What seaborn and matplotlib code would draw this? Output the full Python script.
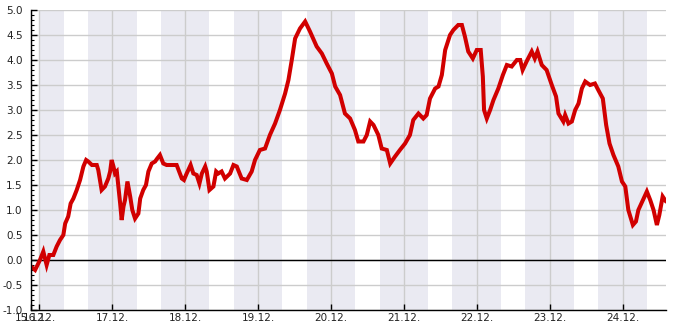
import matplotlib
matplotlib.use("Agg")
import matplotlib.pyplot as plt
from matplotlib.ticker import MultipleLocator
import seaborn as sns
import pandas as pd

# hours since 16.12. 00:00
hours = [-2.75, -1.4, 0.2, 1.3, 2.4, 3.3, 4.6, 5.7, 6.8, 7.9, 8.5, 9.5, 10.3, 11.2, 12.3,
         13.4, 14.5, 15.4, 16.1, 17.3, 18.9, 19.4, 20.5, 21.6, 22.7, 23.3, 23.8, 24.4,
         24.9, 25.5, 26.6, 27.1, 27.7, 28.2, 29.0, 29.9, 30.6, 31.5, 32.6, 33.2, 34.2,
         35.1, 35.9, 37.0, 38.1, 38.8, 39.7, 40.8, 41.9, 45.2, 46.9, 47.6, 48.5, 49.8,
         50.7, 51.8, 52.7, 53.5, 54.6, 55.1, 56.0, 57.3, 58.2, 58.9, 60.0, 61.1, 62.8,
         63.9, 65.0, 66.6, 68.3, 69.9, 71.0, 72.6, 74.3, 75.9, 77.6, 79.2, 80.9, 82.0,
         83.1, 84.2, 85.8, 87.5, 89.1, 91.3, 93.0, 94.6, 96.3, 97.4, 99.0, 100.6, 102.3,
         103.9, 105.0, 106.7, 107.8, 108.9, 110.0, 111.6, 112.7, 114.4, 115.5, 117.1,
         118.7, 120.4, 122.0, 123.1, 124.8, 126.4, 127.5, 128.6, 130.3, 131.4, 132.5,
         133.6, 135.2, 136.3, 137.9, 139.1, 140.1, 141.2, 142.7, 144.0, 145.3, 146.0,
         146.4, 147.3, 148.4, 149.5, 151.1, 152.6, 153.9, 155.5, 157.2, 158.3, 159.1,
         160.4, 162.1, 163.1, 164.0, 165.4, 167.0, 168.7, 170.1, 170.9, 172.5, 173.1,
         174.2, 175.3, 176.4, 177.5, 178.6, 179.7, 181.3, 182.9, 184.0, 185.5, 186.6,
         187.7, 189.0, 190.6, 191.8, 192.9, 193.9, 195.4, 196.4, 197.2, 198.7, 200.0,
         201.1, 202.2, 203.3, 204.1, 205.2, 206.3]
values = [-0.13, -0.2, 0.0, 0.17, -0.1, 0.1, 0.1, 0.27, 0.4, 0.5, 0.73, 0.87, 1.13, 1.23, 1.4,
          1.6, 1.87, 2.0, 1.97, 1.9, 1.9, 1.8, 1.4, 1.47, 1.63, 1.77, 2.0, 1.87,
          1.73, 1.77, 1.13, 0.8, 1.07, 1.2, 1.57, 1.27, 1.0, 0.83, 0.93, 1.23, 1.4,
          1.5, 1.77, 1.93, 1.97, 2.03, 2.1, 1.93, 1.9, 1.9, 1.63, 1.6, 1.73, 1.9,
          1.73, 1.7, 1.53, 1.73, 1.87, 1.77, 1.4, 1.47, 1.77, 1.73, 1.77, 1.63, 1.73,
          1.9, 1.87, 1.63, 1.6, 1.77, 2.0, 2.2, 2.23, 2.5, 2.73, 3.0, 3.33, 3.6,
          4.0, 4.43, 4.63, 4.77, 4.57, 4.27, 4.13, 3.93, 3.73, 3.47, 3.3, 2.93, 2.83,
          2.6, 2.37, 2.37, 2.5, 2.77, 2.7, 2.5, 2.23, 2.2, 1.93, 2.07,
          2.2, 2.33, 2.5, 2.8, 2.93, 2.83, 2.9, 3.23, 3.43, 3.47, 3.7,
          4.2, 4.5, 4.6, 4.7, 4.7, 4.47, 4.17, 4.03, 4.2, 4.2, 3.67,
          3.0, 2.83, 3.0, 3.2, 3.43, 3.7, 3.9, 3.87, 4.0, 4.0, 3.8,
          3.97, 4.17, 4.03, 4.17, 3.9, 3.8, 3.5, 3.27, 2.93, 2.77, 2.9,
          2.73, 2.77, 3.0, 3.13, 3.43, 3.57, 3.5, 3.53, 3.4, 3.23, 2.7,
          2.33, 2.1, 1.87, 1.57, 1.47, 1.0, 0.7, 0.77, 1.0, 1.2, 1.37,
          1.2, 1.0, 0.7, 0.9, 1.27, 1.17]

start_label = "15.12."
day_labels = ["16.12.", "17.12.", "18.12.", "19.12.", "20.12.", "21.12.", "22.12.", "23.12.", "24.12."]

df = pd.DataFrame({"h": hours, "v": values})

sns.set_theme(style="white")
plt.rcParams["font.family"] = ["DejaVu Sans"]
plt.rcParams["axes.unicode_minus"] = False

fig = plt.figure(figsize=(6.85, 3.3), dpi=100)
ax = fig.add_axes([31 / 685, 20 / 330, 635 / 685, 300 / 330])

# shaded bands (dark hours)
band_color = "#eaeaf2"
ax.axvspan(0, 8, color=band_color, lw=0, zorder=0)
for d in range(len(day_labels) - 1):
    ax.axvspan(d * 24 + 16, d * 24 + 32, color=band_color, lw=0, zorder=0)

sns.lineplot(data=df, x="h", y="v", ax=ax, color="#d10000", lw=2.9, sort=False,
             zorder=3, solid_joinstyle="miter")

ax.axhline(0, color="black", lw=1, zorder=2)

ax.set_xlim(hours[0], hours[-1])
ax.set_ylim(-1, 5)
ticks = [hours[0]] + [i * 24 for i in range(len(day_labels))]
ax.set_xticks(ticks)
ax.set_xticklabels([start_label] + day_labels)
ax.yaxis.set_major_locator(MultipleLocator(0.5))
ax.yaxis.set_minor_locator(MultipleLocator(0.1))
ax.yaxis.set_major_formatter(matplotlib.ticker.FormatStrFormatter("%.1f"))

ax.grid(True, which="major", color="#cccccc", lw=1, zorder=1)
ax.set_axisbelow(True)
ax.set_xlabel("")
ax.set_ylabel("")

for s in ["top", "right"]:
    ax.spines[s].set_visible(False)
for s in ["left", "bottom"]:
    ax.spines[s].set_color("black")
    ax.spines[s].set_linewidth(1)
    ax.spines[s].set_zorder(4)

ax.tick_params(axis="y", which="major", direction="in", length=4, width=1, color="black",
               labelsize=7.5, labelcolor="#222222", pad=6, left=True)
ax.tick_params(axis="y", which="minor", direction="in", length=2.2, width=0.8, color="black", left=True)
ax.tick_params(axis="x", which="major", direction="in", length=4, width=1, color="black",
               labelsize=7.5, labelcolor="#222222", pad=2, bottom=True)

fig.savefig("out.png", dpi=100)
